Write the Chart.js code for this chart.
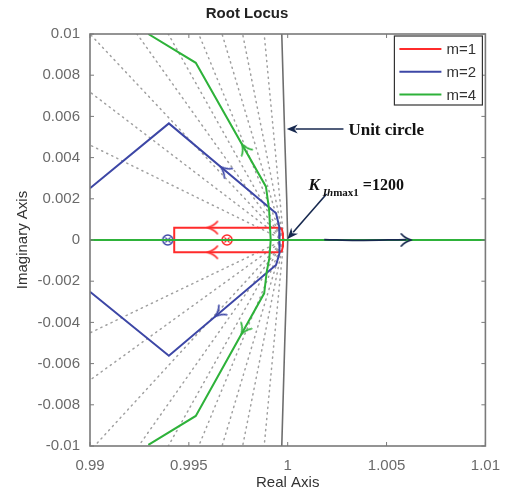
<!DOCTYPE html>
<html>
<head>
<meta charset="utf-8">
<script src="https://cdn.jsdelivr.net/npm/chart.js@4.4.0/dist/chart.umd.min.js"></script>
<style>
  body { margin: 0; background: #fff; }
  #wrap { width: 511px; height: 495px; }
</style>
</head>
<body>
<div id="wrap"><canvas id="chart" width="511" height="495"></canvas></div>
<script>
// axis ticks
const xTickVals = [0.99, 0.995, 1, 1.005, 1.01];
const xTickLabels = ['0.99', '0.995', '1', '1.005', '1.01'];
const yTickVals = [0.01, 0.008, 0.006, 0.004, 0.002, 0, -0.002, -0.004, -0.006, -0.008, -0.01];
const yTickLabels = ['0.01', '0.008', '0.006', '0.004', '0.002', '0', '-0.002', '-0.004', '-0.006', '-0.008', '-0.01'];

// root locus branches
const m1X = [0.99955, 0.99426, 0.99426, 0.99955, 0.9997, 0.99976, 0.99976, 0.9997, 0.99955];
const m1Y = [0.0006, 0.0006, -0.0006, -0.0006, -0.00055, -0.0003, 0.0003, 0.00055, 0.0006];
const m2X = [0.99, 0.99399, 0.99941, 0.99957, 0.9996, 0.99957, 0.99941, 0.99399, 0.99];
const m2Y = [0.00251, 0.00566, 0.0013, 0.00065, 0, -0.00065, -0.00121, -0.00562, -0.00251];
const m4X = [0.99295, 0.99535, 0.9989, 0.99906, 0.99914, 0.99907, 0.99894, 0.99881, 0.99535, 0.99295];
const m4Y = [0.01, 0.0086, 0.00259, 0.00146, 0, -0.00089, -0.00154, -0.00259, -0.00854, -0.00995];
const realAxisX = [0.99, 1.01];
const realAxisY = [0, 0];

// zeros on the real axis
const zeroX = [0.99693, 0.99393];
const zeroSeries = ['m=1', 'm=2'];

// direction arrows on the branches
const arrowSeries = ['m=1', 'm=1', 'm=2', 'm=2', 'm=4', 'm=4'];
const arrowX = [0.99619, 0.99619, 0.9968, 0.99652, 0.99781, 0.99778];
const arrowY = [0.0006, -0.0006, 0.0034, -0.00356, 0.00445, -0.00437];
const arrowDir = [180, 180, -140, 140, -120, 120];

// unit circle
const unitX = [0.9997, 0.99985, 0.99995, 1.0, 0.99995, 0.99985, 0.9997];
const unitY = [0.01, 0.005, 0.002, 0, -0.002, -0.005, -0.01];

// damping grid lines (from the pole at 1 out to the frame)
const gridOrigin = { x: 0.9998, y: 0 };
const gridEndX = [0.99, 0.99, 0.99, 0.99238, 0.99396, 0.9955, 0.99668, 0.99772, 0.99881,
                  0.99, 0.99, 0.99023, 0.99246, 0.99396, 0.9955, 0.99668, 0.99772, 0.99881];
const gridEndY = [0.00461, 0.00718, 0.01, 0.01, 0.01, 0.01, 0.01, 0.01, 0.01,
                  -0.00451, -0.0068, -0.01, -0.01, -0.01, -0.01, -0.01, -0.01, -0.01];

// annotations
const gainArrowX = [1.00185, 1.0035, 1.006];
const gainArrowY = [0.00002, -0.00002, 0.00002];
const unitNote = { text: 'Unit circle', x: 1.00307, y: 0.00539, fromX: 1.00282, toX: 0.99995 };
const kNote = { x: 1.00105, y: 0.002427, fromX: 1.001965, fromY: 0.00223, toX: 0.999985, toY: 0.00005 };

const colors = { 'm=1': '#ff2b2b', 'm=2': '#3d47a6', 'm=4': '#2eb23a' };
const navy = '#17294f';
const legendSeries = ['m=1', 'm=2', 'm=4'];

const toPts = (xs, ys) => xs.map((x, i) => ({ x, y: ys[i] }));

function chevron(color) {
  const c = document.createElement('canvas');
  c.width = 24; c.height = 24;
  const g = c.getContext('2d');
  g.strokeStyle = color;
  g.lineWidth = 1.8;
  g.lineCap = 'round';
  g.lineJoin = 'round';
  g.beginPath();
  g.moveTo(7, 6);
  g.quadraticCurveTo(11, 10.5, 17, 12);
  g.quadraticCurveTo(11, 13.5, 7, 18);
  g.stroke();
  return c;
}

function zeroMark(color) {
  const c = document.createElement('canvas');
  c.width = 14; c.height = 14;
  const g = c.getContext('2d');
  g.strokeStyle = color;
  g.lineWidth = 1.6;
  g.beginPath(); g.arc(7, 7, 5, 0, Math.PI * 2); g.stroke();
  g.lineWidth = 1.1;
  g.beginPath();
  g.moveTo(4.5, 4.5); g.lineTo(9.5, 9.5);
  g.moveTo(9.5, 4.5); g.lineTo(4.5, 9.5);
  g.stroke();
  return c;
}

const lineBase = { showLine: true, pointRadius: 0, fill: false, tension: 0 };

const gridSets = gridEndX.map((x, i) => ({
  ...lineBase,
  label: 'grid',
  data: [gridOrigin, { x, y: gridEndY[i] }],
  borderColor: '#a0a0a0',
  borderWidth: 1.5,
  borderDash: [1.2, 4.4],
  borderCapStyle: 'round',
  order: 10
}));

const arrowSets = legendSeries.map(s => {
  const idx = arrowSeries.map((a, i) => a === s ? i : -1).filter(i => i >= 0);
  return {
    label: 'arrows ' + s,
    data: idx.map(i => ({ x: arrowX[i], y: arrowY[i] })),
    showLine: false,
    pointStyle: chevron(colors[s]),
    pointRotation: idx.map(i => arrowDir[i]),
    pointRadius: 8,
    order: 1
  };
});

const datasets = [
  ...gridSets,
  { ...lineBase, label: 'unit circle', data: toPts(unitX, unitY), borderColor: '#6e6e6e', borderWidth: 1.6, order: 9 },
  {
    label: 'zeros',
    data: zeroX.map(x => ({ x, y: 0 })),
    showLine: false,
    pointStyle: zeroSeries.map(s => zeroMark(colors[s])),
    pointRadius: 6,
    order: 6
  },
  { ...lineBase, label: 'm=1', data: toPts(m1X, m1Y), borderColor: colors['m=1'], borderWidth: 2, order: 4 },
  { ...lineBase, label: 'm=2', data: toPts(m2X, m2Y), borderColor: colors['m=2'], borderWidth: 2, order: 3 },
  { ...lineBase, label: 'm=4', data: toPts(m4X, m4Y), borderColor: colors['m=4'], borderWidth: 2, order: 2 },
  { ...lineBase, label: 'm=4 real', data: toPts(realAxisX, realAxisY), borderColor: colors['m=4'], borderWidth: 2, order: 2 },
  ...arrowSets,
  { ...lineBase, label: 'gain', data: toPts(gainArrowX, gainArrowY), borderColor: navy, borderWidth: 1.8, tension: 0.4, order: 0 },
  {
    label: 'gain head',
    data: [{ x: gainArrowX[gainArrowX.length - 1], y: 0 }],
    showLine: false,
    pointStyle: chevron(navy),
    pointRotation: 0,
    pointRadius: 8,
    order: 0
  }
];

// frame with inward ticks on all four sides
const framePlugin = {
  id: 'frame',
  afterDatasetsDraw(chart) {
    const { ctx, chartArea: a, scales: { x, y } } = chart;
    ctx.save();
    ctx.strokeStyle = '#7a7a7a';
    ctx.lineWidth = 1.6;
    ctx.strokeRect(a.left, a.top, a.right - a.left, a.bottom - a.top);
    ctx.lineWidth = 1;
    ctx.beginPath();
    xTickVals.forEach(v => {
      const px = x.getPixelForValue(v);
      ctx.moveTo(px, a.bottom); ctx.lineTo(px, a.bottom - 4);
      ctx.moveTo(px, a.top); ctx.lineTo(px, a.top + 4);
    });
    yTickVals.forEach(v => {
      const py = y.getPixelForValue(v);
      ctx.moveTo(a.left, py); ctx.lineTo(a.left + 4, py);
      ctx.moveTo(a.right, py); ctx.lineTo(a.right - 4, py);
    });
    ctx.stroke();
    ctx.restore();
  }
};

function arrowTo(ctx, x0, y0, x1, y1) {
  const ang = Math.atan2(y1 - y0, x1 - x0);
  const len = 11, half = 4.5;
  ctx.beginPath();
  ctx.moveTo(x0, y0);
  ctx.lineTo(x1 - Math.cos(ang) * len * 0.8, y1 - Math.sin(ang) * len * 0.8);
  ctx.stroke();
  ctx.beginPath();
  ctx.moveTo(x1, y1);
  ctx.lineTo(x1 - Math.cos(ang) * len - Math.sin(ang) * half, y1 - Math.sin(ang) * len + Math.cos(ang) * half);
  ctx.lineTo(x1 - Math.cos(ang) * len * 0.7, y1 - Math.sin(ang) * len * 0.7);
  ctx.lineTo(x1 - Math.cos(ang) * len + Math.sin(ang) * half, y1 - Math.sin(ang) * len - Math.cos(ang) * half);
  ctx.closePath();
  ctx.fill();
}

const notesPlugin = {
  id: 'notes',
  afterDraw(chart) {
    const { ctx, scales: { x, y } } = chart;
    ctx.save();
    ctx.strokeStyle = navy;
    ctx.fillStyle = navy;
    ctx.lineWidth = 1.6;
    const uy = y.getPixelForValue(unitNote.y);
    arrowTo(ctx, x.getPixelForValue(unitNote.fromX), uy, x.getPixelForValue(unitNote.toX), uy);
    arrowTo(ctx, x.getPixelForValue(kNote.fromX), y.getPixelForValue(kNote.fromY),
            x.getPixelForValue(kNote.toX), y.getPixelForValue(kNote.toY));

    ctx.fillStyle = '#111';
    ctx.textBaseline = 'alphabetic';
    ctx.font = 'bold 17px "Liberation Serif"';
    ctx.fillText(unitNote.text, x.getPixelForValue(unitNote.x), uy + 6);

    let kx = x.getPixelForValue(kNote.x);
    const ky = y.getPixelForValue(kNote.y);
    ctx.font = 'italic bold 17px "Liberation Serif"';
    ctx.fillText('K', kx, ky);
    kx += ctx.measureText('K').width + 3;
    ctx.font = 'italic bold 11px "Liberation Serif"';
    ctx.fillText('Ih', kx, ky + 6);
    kx += ctx.measureText('Ih').width;
    ctx.font = 'bold 11px "Liberation Serif"';
    ctx.fillText('max1', kx, ky + 6);
    kx += ctx.measureText('max1').width + 4;
    ctx.font = 'bold 16px "Liberation Serif"';
    ctx.fillText('=1200', kx, ky);
    ctx.restore();
  }
};

const legendPlugin = {
  id: 'boxLegend',
  afterDraw(chart) {
    const { ctx, chartArea: a } = chart;
    const w = 88, h = 69;
    const left = a.right - 3 - w, top = a.top + 2;
    ctx.save();
    ctx.fillStyle = '#fff';
    ctx.fillRect(left, top, w, h);
    ctx.strokeStyle = '#333';
    ctx.lineWidth = 1.2;
    ctx.strokeRect(left, top, w, h);
    ctx.font = '15px "Liberation Sans"';
    ctx.textBaseline = 'middle';
    legendSeries.forEach((s, i) => {
      const cy = top + 13 + i * 22.7;
      ctx.strokeStyle = colors[s];
      ctx.lineWidth = 2;
      ctx.beginPath();
      ctx.moveTo(left + 5, cy); ctx.lineTo(left + 47, cy);
      ctx.stroke();
      ctx.fillStyle = '#333';
      ctx.fillText(s, left + 52, cy + 1);
    });
    ctx.restore();
  }
};

const axisFont = { family: '"Liberation Sans"', size: 15 };

new Chart(document.getElementById('chart'), {
  type: 'scatter',
  data: { datasets },
  options: {
    responsive: false,
    animation: false,
    layout: { padding: { left: 0, right: 17, top: 0, bottom: 0 } },
    plugins: {
      legend: { display: false },
      tooltip: { enabled: false },
      title: {
        display: true,
        text: 'Root Locus',
        color: '#222',
        font: { family: '"Liberation Sans"', size: 15, weight: 'bold' },
        padding: { top: 5, bottom: 11 }
      }
    },
    scales: {
      x: {
        type: 'linear',
        min: 0.99,
        max: 1.01,
        afterBuildTicks: s => { s.ticks = xTickVals.map(value => ({ value })); },
        afterFit: s => { s.height = 49; },
        ticks: {
          autoSkip: false,
          maxRotation: 0,
          padding: 11,
          color: '#6a6a6a',
          font: axisFont,
          callback: (v, i) => xTickLabels[i]
        },
        grid: { display: false, drawTicks: false },
        border: { display: false },
        title: { display: true, text: 'Real Axis', color: '#333', font: axisFont, padding: { top: 0, bottom: 3 } }
      },
      y: {
        type: 'linear',
        min: -0.01,
        max: 0.01,
        afterBuildTicks: s => { s.ticks = yTickVals.map(value => ({ value })); },
        afterFit: s => { s.width = 90; },
        ticks: {
          autoSkip: false,
          padding: 10,
          color: '#6a6a6a',
          font: axisFont,
          callback: (v, i) => yTickLabels[i]
        },
        grid: { display: false, drawTicks: false },
        border: { display: false },
        title: { display: true, text: 'Imaginary Axis', color: '#333', font: axisFont, padding: { top: 14, bottom: 0 } }
      }
    }
  },
  plugins: [framePlugin, notesPlugin, legendPlugin]
});
</script>
</body>
</html>
